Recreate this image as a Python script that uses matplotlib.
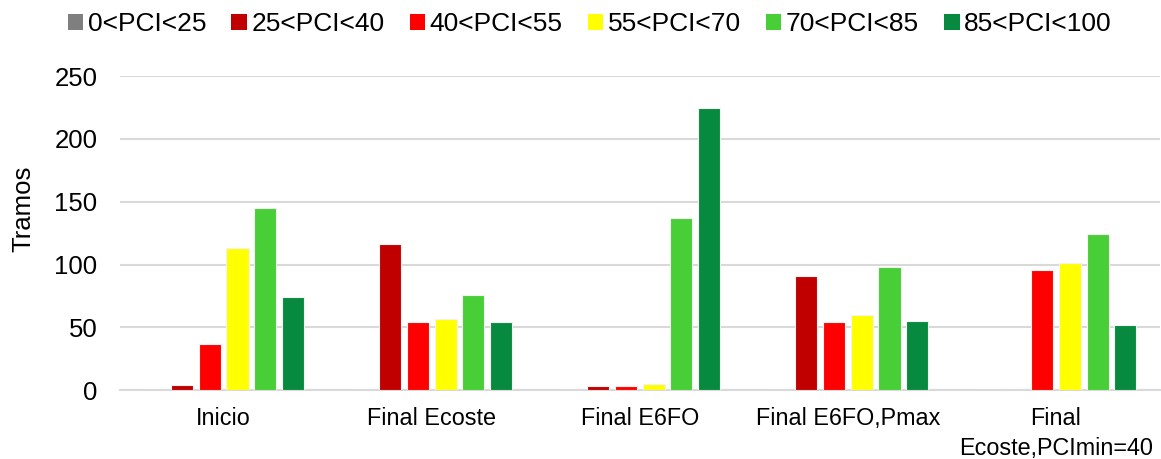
import matplotlib.pyplot as plt
import numpy as np

plt.rcParams['font.family'] = ['Liberation Sans', 'DejaVu Sans']

categories = ["Inicio", "Final Ecoste", "Final E6FO", "Final E6FO,Pmax",
              "Final\nEcoste,PCImin=40"]
series_names = ["0<PCI<25", "25<PCI<40", "40<PCI<55", "55<PCI<70",
                "70<PCI<85", "85<PCI<100"]
pci_0_25 = [0, 0, 0, 0, 0]
pci_25_40 = [4, 116, 3, 91, 0]
pci_40_55 = [37, 54, 3, 54, 96]
pci_55_70 = [113, 57, 5, 60, 101]
pci_70_85 = [145, 76, 137, 98, 124]
pci_85_100 = [74, 54, 225, 55, 52]
y_ticks = [0, 50, 100, 150, 200, 250]

series = [pci_0_25, pci_25_40, pci_40_55, pci_55_70, pci_70_85, pci_85_100]
colors = ["#7F7F7F", "#C00000", "#FF0000", "#FFFF00", "#48CE36", "#078A3F"]

fig = plt.figure(figsize=(11.61, 4.59), dpi=100)
ax = fig.add_axes([0.103, 0.150, 0.896, 0.684])

x = np.arange(len(categories))
step = 0.1337
width = 0.106
for i, (vals, col, name) in enumerate(zip(series, colors, series_names)):
    offs = (i - 2.5) * step
    ax.bar(x + offs, vals, width, color=col, edgecolor="#f2f2f2",
           linewidth=0.8, label=name, zorder=3)

ax.set_xlim(-0.5, len(categories) - 0.5)
ax.set_ylim(0, 250)
ax.set_yticks(y_ticks)
ax.set_xticks(x)
ax.set_xticklabels(categories, fontsize=16.8, linespacing=1.38)
ax.tick_params(axis='y', labelsize=18.5, length=0, pad=16)
ax.tick_params(axis='x', length=0, pad=12)
ax.yaxis.grid(True, color="#d9d9d9", linewidth=1.5, zorder=0)
for s in ["left", "right", "top"]:
    ax.spines[s].set_visible(False)
ax.spines["bottom"].set_color("#d9d9d9")
ax.spines["bottom"].set_linewidth(1.5)
ax.set_ylabel("Tramos", fontsize=18.5)
ax.yaxis.set_label_coords(-0.081, 0.576)

leg = fig.legend(loc="upper center", bbox_to_anchor=(0.508, 1.025), ncol=6,
                 frameon=False, fontsize=19, handlelength=0.58,
                 handleheight=0.6, handletextpad=0.18, columnspacing=0.95)
for h in leg.legend_handles:
    h.set_edgecolor("none")

fig.savefig("out.png", dpi=100)
